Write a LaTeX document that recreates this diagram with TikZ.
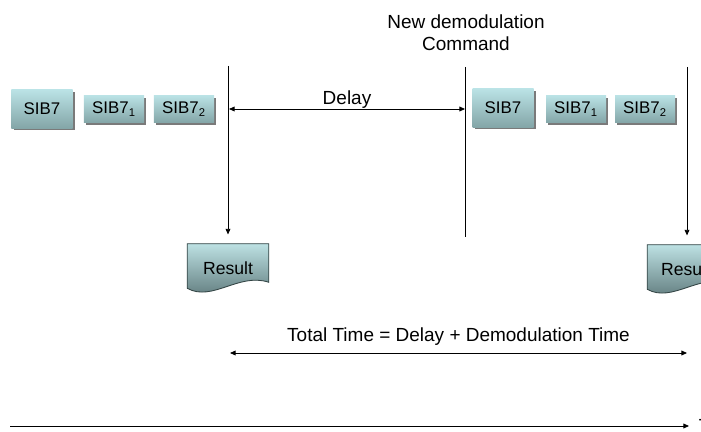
\documentclass[tikz,border=0pt]{standalone}
\usepackage{fontspec}
\setmainfont{Liberation Sans}
\usepackage{xcolor}
\definecolor{cBoxTop}{HTML}{BAE2E5}
\definecolor{cBoxBot}{HTML}{84A6A8}
\definecolor{cDocTop}{HTML}{BDE1E3}
\definecolor{cDocBot}{HTML}{587274}
\definecolor{cDocLine}{HTML}{334444}
\definecolor{cShadow}{HTML}{7A7A7A}
\usetikzlibrary{positioning,arrows.meta,calc,shadows}
\tikzset{
  node-sib/.style={top color=cBoxTop,bottom color=cBoxBot,
    minimum height=0.95cm,minimum width=1.525cm,inner sep=0pt,
    font=\fontsize{12}{14}\selectfont,
    drop shadow={shadow xshift=1.6pt,shadow yshift=-1.6pt,fill=cShadow,opacity=1}},
  node-sib-sub/.style={node-sib,minimum height=0.675cm,minimum width=1.5cm},
  node-doc/.style={minimum width=2.025cm,minimum height=1.1cm,inner sep=0pt},
  node-doc-text/.style={font=\fontsize{12.5}{14}\selectfont},
  node-label/.style={font=\fontsize{13.5}{15.6}\selectfont,align=center},
  doc-shape/.style={top color=cDocTop,bottom color=cDocBot,draw=cDocLine,line width=0.6pt},
  marker/.style={line width=0.6pt,draw=black},
  arrow/.style={-{Triangle[length=1.4mm,width=1.2mm]},line width=0.6pt,draw=black},
  arrow-both/.style={{Triangle[length=1.4mm,width=1.2mm]}-{Triangle[length=1.4mm,width=1.2mm]},
    line width=0.6pt,draw=black},
}
% document shape with a wavy bottom, drawn round a named node
\newcommand{\docshape}[1]{%
  \path[doc-shape] (#1.north west) -- (#1.north east) -- ($(#1.south east)+(0,-6)$)
    .. controls ($(#1.south east)+(-30,-16)$) and ($(#1.south west)+(25,14)$)
    .. (#1.south west) -- cycle;}

\begin{document}
\begin{tikzpicture}[x=0.025cm,y=-0.025cm]
  \useasboundingbox (0,0) rectangle (701,432);

  % first frame
  \node[node-sib] (sib-a) at (42,109) {SIB7};
  \node[node-sib-sub] (sib-a1) at (114,109) {SIB7\textsubscript{1}};
  \node[node-sib-sub] (sib-a2) at (184,109) {SIB7\textsubscript{2}};

  % second frame
  \node[node-sib] (sib-b) at (503,108) {SIB7};
  \node[node-sib-sub] (sib-b1) at (576,109) {SIB7\textsubscript{1}};
  \node[node-sib-sub] (sib-b2) at (645,109) {SIB7\textsubscript{2}};

  \node[node-label] (cmd) at (466,33) {New demodulation\\Command};

  \coordinate (top-a) at (228,66);
  \coordinate (top-b) at (465,67);
  \coordinate (top-c) at (687,67);
  \coordinate (bot-b) at (465,237);

  \node[node-doc] (res-a) at (228,266) {};
  \docshape{res-a}
  \node[node-doc-text] (res-a-text) at ($(res-a)+(0,2)$) {Result};
  \node[node-doc] (res-c) at (688,267) {};
  \docshape{res-c}
  \node[node-doc-text] (res-c-text) at ($(res-c)+(-2,2)$) {Result};

  \draw[arrow,shorten >=11\pgflinewidth] (top-a) -- (top-a |- res-a.north);
  \draw[marker] (top-b) -- (bot-b);
  \draw[arrow,shorten >=11\pgflinewidth] (top-c) -- (top-c |- res-c.north);

  \coordinate (d-a) at (229,109);
  \coordinate (d-b) at (465,109);
  \draw[arrow-both] (d-a) -- node[above=0pt,inner sep=0pt,node-label] (delay) {Delay} (d-b);

  \coordinate (t-a) at (230,353);
  \coordinate (t-b) at (687,353);
  \draw[arrow-both] (t-a) -- node[above=4pt,inner sep=1pt,node-label] (total)
    {Total Time = Delay + Demodulation Time} (t-b);

  \coordinate (ax-a) at (10,426);
  \coordinate (ax-b) at (689,426);
  \draw[arrow] (ax-a) -- (ax-b);
  \node[node-label,anchor=west] (ax-label) at (694,426) {Time};
\end{tikzpicture}
\end{document}
